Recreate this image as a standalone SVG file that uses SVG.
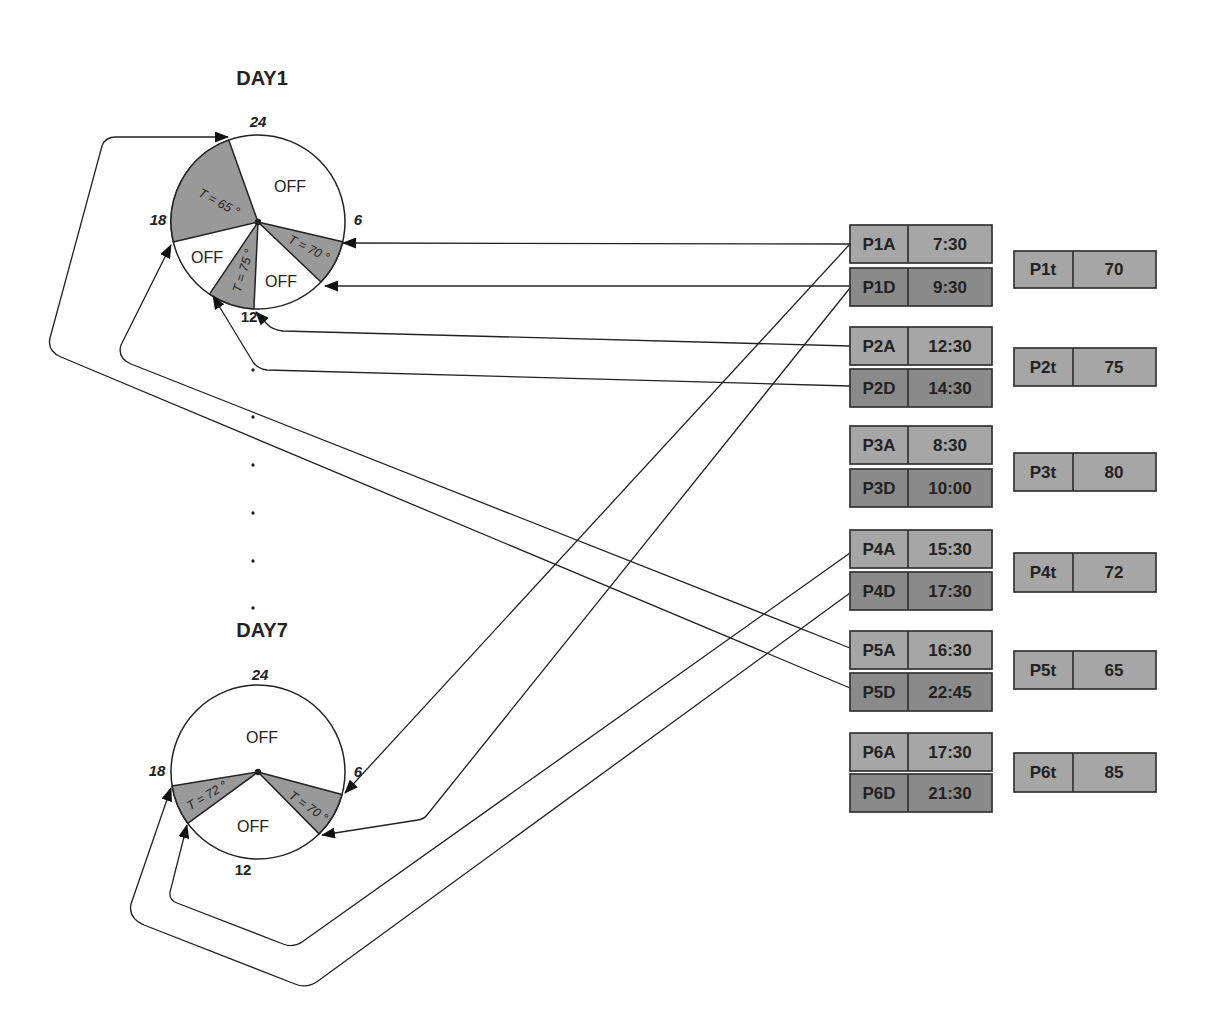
<svg xmlns="http://www.w3.org/2000/svg" width="1218" height="1012" viewBox="0 0 1218 1012">
<defs>
<marker id="ah" viewBox="0 0 14 11" refX="13" refY="5.5" markerWidth="14" markerHeight="11" markerUnits="userSpaceOnUse" orient="auto">
<path d="M0,0 L14,5.5 L0,11 Z" fill="#111"/>
</marker>
</defs>
<style>
.bg{fill:#ffffff}
.face{fill:#ffffff;stroke:#222;stroke-width:1.5}
.sec{fill:#999999;stroke:#222;stroke-width:1.5;stroke-linejoin:round}
.conn{fill:none;stroke:#222;stroke-width:1.3;marker-end:url(#ah)}
.boxA{fill:#a6a6a6;stroke:#333;stroke-width:1.7}
.boxD{fill:#8a8a8a;stroke:#333;stroke-width:1.7}
.div{stroke:#333;stroke-width:1.7}
.bt{font-family:'Liberation Sans',Arial,sans-serif;font-weight:bold;font-size:17px;fill:#222;text-anchor:middle}
.title{font-family:'Liberation Sans',Arial,sans-serif;font-weight:bold;font-size:20px;fill:#222;text-anchor:middle}
.hr{font-family:'Liberation Sans',Arial,sans-serif;font-weight:bold;font-style:italic;font-size:15px;fill:#222;text-anchor:middle}
.hr12{font-family:'Liberation Sans',Arial,sans-serif;font-weight:bold;font-size:15px;fill:#222;text-anchor:middle}
.off{font-family:'Liberation Sans',Arial,sans-serif;font-size:16px;fill:#222;text-anchor:middle}
.tl{font-family:'Liberation Sans',Arial,sans-serif;font-style:italic;font-size:12.5px;fill:#222;text-anchor:middle}
.dot{fill:#222}
</style>
<rect class="bg" x="0" y="0" width="1218" height="1012"/>

<g id="day1">
<text class="title" x="262" y="85">DAY1</text>
<circle class="face" cx="258" cy="222" r="87"/>
<path class="sec" d="M258,222 L173.3,241.9 A87,87 0 0 1 228.7,140.1 Z"/>
<path class="sec" d="M258,222 L342.7,241.7 A87,87 0 0 1 321.0,282.0 Z"/>
<path class="sec" d="M258,222 L253.9,308.9 A87,87 0 0 1 209.5,294.2 Z"/>
<circle class="dot" cx="258" cy="222" r="3.2"/>
<text class="hr" x="258" y="127">24</text>
<text class="hr" x="158" y="225">18</text>
<text class="hr" x="358" y="225">6</text>
<text class="hr12" x="249" y="322">12</text>
<text class="off" x="290" y="192">OFF</text>
<text class="off" x="207" y="263">OFF</text>
<text class="off" x="281" y="287">OFF</text>
<text class="tl" transform="translate(217,206) rotate(28)">T = 65 °</text>
<text class="tl" transform="translate(307,252) rotate(27)">T = 70 °</text>
<text class="tl" transform="translate(247,272) rotate(-73)">T = 75 °</text>
</g>

<g id="dots">
<circle class="dot" cx="253" cy="370" r="1.7"/>
<circle class="dot" cx="253" cy="417" r="1.7"/>
<circle class="dot" cx="253" cy="465" r="1.7"/>
<circle class="dot" cx="253" cy="513" r="1.7"/>
<circle class="dot" cx="253" cy="561" r="1.7"/>
<circle class="dot" cx="253" cy="608" r="1.7"/>
</g>

<g id="day7">
<text class="title" x="262" y="637">DAY7</text>
<circle class="face" cx="258" cy="772" r="87"/>
<path class="sec" d="M258,772 L187.7,823.3 A87,87 0 0 1 172.1,785.9 Z"/>
<path class="sec" d="M258,772 L342.0,794.5 A87,87 0 0 1 319.1,833.9 Z"/>
<circle class="dot" cx="258" cy="772" r="3.2"/>
<text class="hr" x="260" y="680">24</text>
<text class="hr" x="157" y="776">18</text>
<text class="hr" x="358" y="777">6</text>
<text class="hr12" x="243" y="875">12</text>
<text class="off" x="262" y="743">OFF</text>
<text class="off" x="253" y="832">OFF</text>
<text class="tl" transform="translate(209,799) rotate(-31)">T = 72 °</text>
<text class="tl" transform="translate(306,810) rotate(35)">T = 70 °</text>
</g>

<g id="connectors">
<path class="conn" d="M850,244 L343,243"/>
<path class="conn" d="M850,286 L325,286"/>
<path class="conn" d="M850,346 L283,331 Q272,330 266,323 L256,312"/>
<path class="conn" d="M850,386 L267,370 Q258,369 253,362 L213,296"/>
<path class="conn" d="M850,648 L131,364 Q117,358 121,345 L171,245"/>
<path class="conn" d="M850,688 L61,357 Q47,351 50,338 L102,146 Q105,137 116,137 L228,137"/>
<path class="conn" d="M850,244 L345,793"/>
<path class="conn" d="M850,288 L427,815 Q424,819 418,820 L322,835"/>
<path class="conn" d="M850,553 L302,942 Q293,948 283,944 L177,903 Q169,900 170,892 L187,825"/>
<path class="conn" d="M850,593 L318,981 Q307,989 295,984 L144,925 Q128,918 131,904 L171,788"/>
</g>

<g id="P1A"><rect class="boxA" x="850" y="225" width="142" height="38"/><line class="div" x1="908" y1="225" x2="908" y2="263"/><text class="bt" x="879" y="250">P1A</text><text class="bt" x="950" y="250">7:30</text></g>
<g id="P1D"><rect class="boxD" x="850" y="268" width="142" height="38"/><line class="div" x1="908" y1="268" x2="908" y2="306"/><text class="bt" x="879" y="293">P1D</text><text class="bt" x="950" y="293">9:30</text></g>
<g id="P2A"><rect class="boxA" x="850" y="327" width="142" height="38"/><line class="div" x1="908" y1="327" x2="908" y2="365"/><text class="bt" x="879" y="352">P2A</text><text class="bt" x="950" y="352">12:30</text></g>
<g id="P2D"><rect class="boxD" x="850" y="369" width="142" height="38"/><line class="div" x1="908" y1="369" x2="908" y2="407"/><text class="bt" x="879" y="394">P2D</text><text class="bt" x="950" y="394">14:30</text></g>
<g id="P3A"><rect class="boxA" x="850" y="426" width="142" height="38"/><line class="div" x1="908" y1="426" x2="908" y2="464"/><text class="bt" x="879" y="451">P3A</text><text class="bt" x="950" y="451">8:30</text></g>
<g id="P3D"><rect class="boxD" x="850" y="469" width="142" height="38"/><line class="div" x1="908" y1="469" x2="908" y2="507"/><text class="bt" x="879" y="494">P3D</text><text class="bt" x="950" y="494">10:00</text></g>
<g id="P4A"><rect class="boxA" x="850" y="530" width="142" height="38"/><line class="div" x1="908" y1="530" x2="908" y2="568"/><text class="bt" x="879" y="555">P4A</text><text class="bt" x="950" y="555">15:30</text></g>
<g id="P4D"><rect class="boxD" x="850" y="572" width="142" height="38"/><line class="div" x1="908" y1="572" x2="908" y2="610"/><text class="bt" x="879" y="597">P4D</text><text class="bt" x="950" y="597">17:30</text></g>
<g id="P5A"><rect class="boxA" x="850" y="631" width="142" height="38"/><line class="div" x1="908" y1="631" x2="908" y2="669"/><text class="bt" x="879" y="656">P5A</text><text class="bt" x="950" y="656">16:30</text></g>
<g id="P5D"><rect class="boxD" x="850" y="673" width="142" height="38"/><line class="div" x1="908" y1="673" x2="908" y2="711"/><text class="bt" x="879" y="698">P5D</text><text class="bt" x="950" y="698">22:45</text></g>
<g id="P6A"><rect class="boxA" x="850" y="733" width="142" height="38"/><line class="div" x1="908" y1="733" x2="908" y2="771"/><text class="bt" x="879" y="758">P6A</text><text class="bt" x="950" y="758">17:30</text></g>
<g id="P6D"><rect class="boxD" x="850" y="774" width="142" height="38"/><line class="div" x1="908" y1="774" x2="908" y2="812"/><text class="bt" x="879" y="799">P6D</text><text class="bt" x="950" y="799">21:30</text></g>

<g id="P1t"><rect class="boxA" x="1014" y="251" width="142" height="37"/><line class="div" x1="1073" y1="251" x2="1073" y2="288"/><text class="bt" x="1043" y="275">P1t</text><text class="bt" x="1114" y="275">70</text></g>
<g id="P2t"><rect class="boxA" x="1014" y="348" width="142" height="38"/><line class="div" x1="1073" y1="348" x2="1073" y2="386"/><text class="bt" x="1043" y="373">P2t</text><text class="bt" x="1114" y="373">75</text></g>
<g id="P3t"><rect class="boxA" x="1014" y="453" width="142" height="38"/><line class="div" x1="1073" y1="453" x2="1073" y2="491"/><text class="bt" x="1043" y="478">P3t</text><text class="bt" x="1114" y="478">80</text></g>
<g id="P4t"><rect class="boxA" x="1014" y="553" width="142" height="39"/><line class="div" x1="1073" y1="553" x2="1073" y2="592"/><text class="bt" x="1043" y="578">P4t</text><text class="bt" x="1114" y="578">72</text></g>
<g id="P5t"><rect class="boxA" x="1014" y="651" width="142" height="38"/><line class="div" x1="1073" y1="651" x2="1073" y2="689"/><text class="bt" x="1043" y="676">P5t</text><text class="bt" x="1114" y="676">65</text></g>
<g id="P6t"><rect class="boxA" x="1014" y="753" width="142" height="39"/><line class="div" x1="1073" y1="753" x2="1073" y2="792"/><text class="bt" x="1043" y="778">P6t</text><text class="bt" x="1114" y="778">85</text></g>
</svg>
